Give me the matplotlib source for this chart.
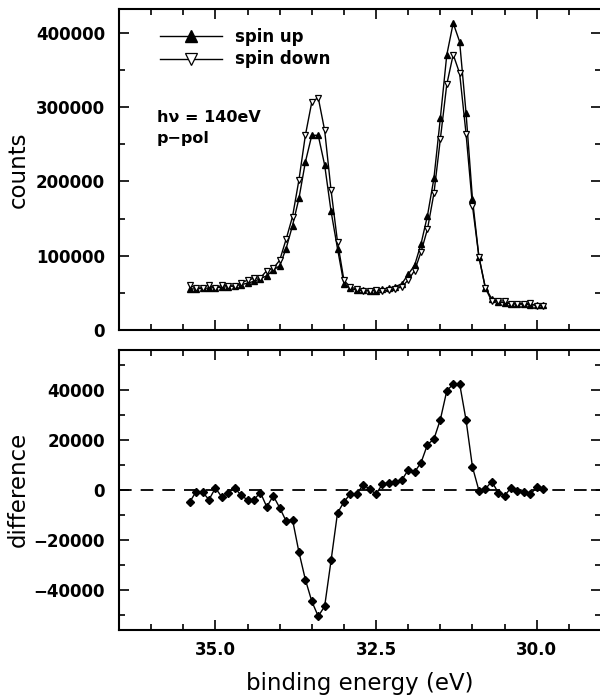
import numpy as np
import matplotlib
matplotlib.use("Agg")
import matplotlib.pyplot as plt
from matplotlib.ticker import MultipleLocator, FixedLocator

# binding energy grid (eV)
energy = [35.4, 35.3, 35.2, 35.1, 35.0, 34.9, 34.8, 34.7, 34.6, 34.5,
          34.4, 34.3, 34.2, 34.1, 34.0, 33.9, 33.8, 33.7, 33.6, 33.5,
          33.4, 33.3, 33.2, 33.1, 33.0, 32.9, 32.8, 32.7, 32.6, 32.5,
          32.4, 32.3, 32.2, 32.1, 32.0, 31.9, 31.8, 31.7, 31.6, 31.5,
          31.4, 31.3, 31.2, 31.1, 31.0, 30.9, 30.8, 30.7, 30.6, 30.5,
          30.4, 30.3, 30.2, 30.1, 30.0, 29.9]

# counts in units of 1000
spin_up = [55, 55.5, 56, 56.5, 57, 57.5, 58.5, 59.5, 61, 63,
           65.5, 69, 73, 80.5, 86.5, 109.5, 140.5, 177, 226, 262,
           262, 222, 159.5, 109.5, 62, 56, 53.5, 54, 53, 52.5,
           55, 56.5, 58.5, 62, 75, 87, 116, 154, 204, 285,
           370, 413, 388, 292, 176, 98.5, 57, 42, 38, 36.5,
           35.5, 35, 34.5, 34, 33.5, 33]

spin_down = [60, 56.2, 56.9, 60.5, 56.3, 60.4, 59.8, 58.6, 63.3, 67,
             69.5, 70.1, 79.9, 82.9, 93.7, 122, 152.5, 202, 262, 306.7,
             312.7, 268.7, 187.8, 118.8, 66.9, 57.6, 55.4, 51.9, 52.8, 54.2,
             52.7, 53.7, 55.3, 58.1, 67.1, 79.9, 105.1, 135.9, 183.7, 256.9,
             330.4, 370.6, 345.5, 264.1, 166.9, 98.8, 56.7, 38.7, 39.1, 39,
             34.6, 35.4, 35.3, 35.9, 32.4, 32.7]

difference = [-5.0, -0.7, -0.9, -4.0, 0.7, -2.9, -1.3, 0.9, -2.3, -4.0,
              -4.0, -1.1, -6.9, -2.4, -7.2, -12.5, -12.0, -25.0, -36.0, -44.7,
              -50.7, -46.7, -28.3, -9.3, -4.9, -1.6, -1.9, 2.1, 0.2, -1.7,
              2.3, 2.8, 3.2, 3.9, 7.9, 7.1, 10.9, 18.1, 20.3, 28.1,
              39.6, 42.4, 42.5, 27.9, 9.1, -0.3, 0.3, 3.3, -1.1, -2.5,
              0.9, -0.4, -0.8, -1.9, 1.1, 0.3]

x = np.array(energy)
up = np.array(spin_up) * 1000
down = np.array(spin_down) * 1000
diff = np.array(difference) * 1000

fig = plt.figure(figsize=(6, 7), dpi=100)
ax1 = fig.add_axes([0.1983, 0.5286, 0.8034, 0.4586])
ax2 = fig.add_axes([0.1983, 0.1007, 0.8034, 0.3993])

tick_font = dict(fontsize=12, fontweight="bold")

for ax in (ax1, ax2):
    ax.set_xlim(36.5, 29.0)
    ax.xaxis.set_major_locator(FixedLocator([35.0, 32.5, 30.0]))
    ax.xaxis.set_minor_locator(MultipleLocator(0.5))
    ax.tick_params(which="both", direction="in", top=True, right=True, width=1.2)
    ax.tick_params(axis="y", which="both", pad=10)
    ax.tick_params(axis="x", which="both", pad=8)
    ax.tick_params(which="major", length=7)
    ax.tick_params(which="minor", length=4)
    for s in ax.spines.values():
        s.set_linewidth(1.5)

# top panel
ax1.plot(x, up, color="black", lw=1, marker="^", ms=4.8, mfc="black", mec="black",
         label="spin up")
ax1.plot(x, down, color="black", lw=1, marker="v", ms=4.8, mfc="white", mec="black",
         mew=0.9, label="spin down")
ax1.set_yticks([0, 100000, 200000, 300000, 400000])
ax1.set_yticklabels(["0", "100000", "200000", "300000", "400000"], **tick_font)
ax1.yaxis.set_minor_locator(MultipleLocator(50000))
ax1.set_ylim(0, 432000)
ax1.tick_params(labelbottom=False)

ax1.legend(loc="upper left", bbox_to_anchor=(0.085, 0.94), frameon=False,
           borderpad=0, borderaxespad=0, handlelength=3.7, handletextpad=0.8,
           labelspacing=0.25, markerscale=1.8,
           prop=dict(size=12, weight="bold"))

ax1.text(0.079, 0.663, "h\u03bd = 140eV", transform=ax1.transAxes,
         fontsize=11.5, fontweight="bold", va="center", ha="left")
ax1.text(0.079, 0.598, "p\u2212pol", transform=ax1.transAxes,
         fontsize=11.5, fontweight="bold", va="center", ha="left")

# bottom panel
ax2.axhline(0, color="black", lw=1.3, ls=(0, (7, 5)))
ax2.plot(x, diff, color="black", lw=1, marker="D", ms=3.8, mfc="black", mec="black")
ax2.set_yticks([-40000, -20000, 0, 20000, 40000])
ax2.set_yticklabels(["\u221240000", "\u221220000", "0", "20000", "40000"], **tick_font)
ax2.yaxis.set_minor_locator(MultipleLocator(10000))
ax2.set_ylim(-56000, 56000)
ax2.set_xticks([35.0, 32.5, 30.0])
ax2.set_xticklabels(["35.0", "32.5", "30.0"], **tick_font)

fig.text(0.03, 0.758, "counts", rotation=90, fontsize=16.5, ha="center", va="center")
fig.text(0.03, 0.3004, "difference", rotation=90, fontsize=16.5, ha="center", va="center")
fig.text(0.6, 0.023, "binding energy (eV)", fontsize=16.5, ha="center", va="center")

fig.savefig("out.png", dpi=100)
